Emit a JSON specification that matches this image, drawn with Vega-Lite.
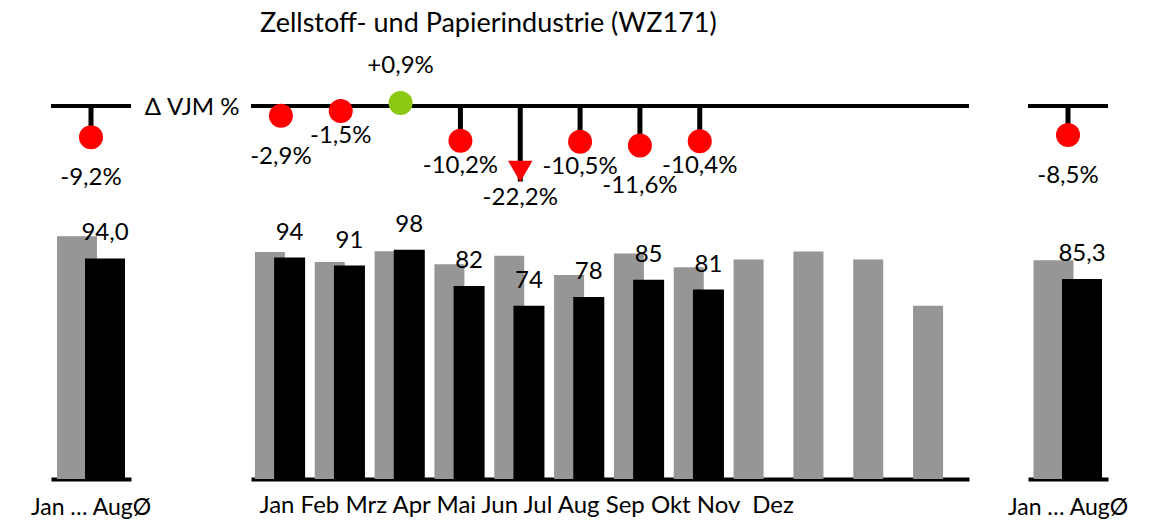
{
  "$schema": "https://vega.github.io/schema/vega-lite/v6.json",
  "padding": {"left": 30, "top": 10, "right": 0, "bottom": 0},
  "title": {"text": "Zellstoff- und Papierindustrie (WZ171)", "anchor": "start", "dx": 230, "fontSize": 27, "fontWeight": "normal", "font": "Lato", "color": "black", "offset": 13},
  "config": {
    "view": {"stroke": null},
    "font": "Lato",
    "locale": {"number": {"decimal": ",", "thousands": ".", "grouping": [3], "currency": ["", " €"], "minus": "-"}},
    "text": {"font": "Lato", "fontSize": 24, "color": "black"}
  },
  "spacing": 120,
  "bounds": "flush",
  "hconcat": [
    {
      "width": 80, "height": 428,
      "data": {"values": [{"period": "Jan … AugØ", "prev": 103.5, "curr": 94.0, "delta": -0.092}]},
      "resolve": {"scale": {"y": "independent"}},
      "layer": [
        {"mark": {"type": "bar", "width": 40, "xOffset": -14, "color": "#969696"},
         "encoding": {"x": {"field": "period", "type": "nominal", "scale": {"paddingInner": 0, "paddingOuter": 0}, "axis": {"title": null, "ticks": false, "tickSize": 0, "domainColor": "black", "domainWidth": 4, "labelFontSize": 23, "labelColor": "black", "labelPadding": 17, "labelAngle": 0, "labelFont": "Lato"}},
                      "y": {"field": "prev", "type": "quantitative", "scale": {"domain": [0, 182.5]}, "axis": null}}},
        {"mark": {"type": "bar", "width": 40, "xOffset": 14, "color": "#000000"},
         "encoding": {"x": {"field": "period", "type": "nominal", "scale": {"paddingInner": 0, "paddingOuter": 0}, "axis": {"title": null, "ticks": false, "tickSize": 0, "domainColor": "black", "domainWidth": 4, "labelFontSize": 23, "labelColor": "black", "labelPadding": 17, "labelAngle": 0, "labelFont": "Lato"}},
                      "y": {"field": "curr", "type": "quantitative", "scale": {"domain": [0, 182.5]}, "axis": null}}},
        {"mark": {"type": "text", "dx": 14, "dy": -26, "baseline": "middle", "fontSize": 24, "color": "black"},
         "encoding": {"x": {"field": "period", "type": "nominal", "scale": {"paddingInner": 0, "paddingOuter": 0}, "axis": {"title": null, "ticks": false, "tickSize": 0, "domainColor": "black", "domainWidth": 4, "labelFontSize": 23, "labelColor": "black", "labelPadding": 17, "labelAngle": 0, "labelFont": "Lato"}},
                      "y": {"field": "curr", "type": "quantitative", "scale": {"domain": [0, 182.5]}, "axis": null},
                      "text": {"field": "curr", "type": "quantitative", "format": ".1f"}}},
        {"data": {"values": [{}]},
         "mark": {"type": "rule", "strokeWidth": 4, "color": "black"},
         "encoding": {"y": {"datum": 0, "type": "quantitative", "scale": {"domain": [-1.09706, 0.16176]}, "axis": null}}},
        {"mark": {"type": "rule", "strokeWidth": 5, "color": "black"},
         "encoding": {"x": {"field": "period", "type": "nominal", "scale": {"paddingInner": 0, "paddingOuter": 0}, "axis": {"title": null, "ticks": false, "tickSize": 0, "domainColor": "black", "domainWidth": 4, "labelFontSize": 23, "labelColor": "black", "labelPadding": 17, "labelAngle": 0, "labelFont": "Lato"}},
                      "y": {"field": "delta", "type": "quantitative", "scale": {"domain": [-1.09706, 0.16176]}, "axis": null},
                      "y2": {"datum": 0}}},
        {"mark": {"type": "point", "filled": true, "shape": "circle", "size": 576, "opacity": 1},
         "encoding": {"x": {"field": "period", "type": "nominal", "scale": {"paddingInner": 0, "paddingOuter": 0}, "axis": {"title": null, "ticks": false, "tickSize": 0, "domainColor": "black", "domainWidth": 4, "labelFontSize": 23, "labelColor": "black", "labelPadding": 17, "labelAngle": 0, "labelFont": "Lato"}},
                      "y": {"field": "delta", "type": "quantitative", "scale": {"domain": [-1.09706, 0.16176]}, "axis": null},
                      "color": {"condition": {"test": "datum.delta > 0", "value": "#8CC814"}, "value": "#FF0000"}}},
        {"mark": {"type": "text", "dy": 41, "baseline": "middle", "fontSize": 24, "color": "black"},
         "encoding": {"x": {"field": "period", "type": "nominal", "scale": {"paddingInner": 0, "paddingOuter": 0}, "axis": {"title": null, "ticks": false, "tickSize": 0, "domainColor": "black", "domainWidth": 4, "labelFontSize": 23, "labelColor": "black", "labelPadding": 17, "labelAngle": 0, "labelFont": "Lato"}},
                      "y": {"field": "delta", "type": "quantitative", "scale": {"domain": [-1.09706, 0.16176]}, "axis": null},
                      "text": {"field": "delta", "type": "quantitative", "format": "+.1%"}}}
      ]
    },
    {
      "spacing": 59,
      "bounds": "flush",
      "hconcat": [
        {
          "width": 718, "height": 428,
          "data": {"values": [
            {"month": "Jan", "prev": 96.8, "curr": 94.4, "delta": -0.029},
            {"month": "Feb", "prev": 92.5, "curr": 91.0, "delta": -0.015},
            {"month": "Mrz", "prev": 97.1, "curr": 97.7, "delta": 0.009},
            {"month": "Apr", "prev": 91.6, "curr": 82.3, "delta": -0.102},
            {"month": "Mai", "prev": 95.2, "curr": 73.9, "delta": -0.222},
            {"month": "Jun", "prev": 87.0, "curr": 77.6, "delta": -0.105},
            {"month": "Jul", "prev": 96.2, "curr": 85.0, "delta": -0.116},
            {"month": "Aug", "prev": 90.3, "curr": 80.8, "delta": -0.104},
            {"month": "Sep", "prev": 93.6, "curr": null, "delta": null},
            {"month": "Okt", "prev": 97.0, "curr": null, "delta": null},
            {"month": "Nov", "prev": 93.6, "curr": null, "delta": null},
            {"month": "Dez", "prev": 73.9, "curr": null, "delta": null}
          ]},
          "resolve": {"scale": {"y": "independent"}},
          "layer": [
            {"mark": {"type": "bar", "width": 30, "xOffset": -11, "color": "#969696"},
             "encoding": {"x": {"field": "month", "type": "nominal", "scale": {"domain": ["Jan","Feb","Mrz","Apr","Mai","Jun","Jul","Aug","Sep","Okt","Nov","Dez"], "paddingInner": 0, "paddingOuter": 0}, "axis": {"title": "Jan Feb Mrz Apr Mai Jun Jul Aug Sep Okt Nov\u00a0 Dez", "titleAnchor": "start", "titleX": 8, "titlePadding": 14, "titleFontSize": 24, "titleFontWeight": "normal", "titleColor": "black", "titleFont": "Lato", "labels": false, "ticks": false, "tickSize": 0, "domainColor": "black", "domainWidth": 4}},
                          "y": {"field": "prev", "type": "quantitative", "scale": {"domain": [0, 182.5]}, "axis": null}}},
            {"transform": [{"filter": "isValid(datum.curr)"}],
             "mark": {"type": "bar", "width": 31, "xOffset": 8.7, "color": "#000000"},
             "encoding": {"x": {"field": "month", "type": "nominal", "scale": {"domain": ["Jan","Feb","Mrz","Apr","Mai","Jun","Jul","Aug","Sep","Okt","Nov","Dez"], "paddingInner": 0, "paddingOuter": 0}, "axis": {"title": "Jan Feb Mrz Apr Mai Jun Jul Aug Sep Okt Nov\u00a0 Dez", "titleAnchor": "start", "titleX": 8, "titlePadding": 14, "titleFontSize": 24, "titleFontWeight": "normal", "titleColor": "black", "titleFont": "Lato", "labels": false, "ticks": false, "tickSize": 0, "domainColor": "black", "domainWidth": 4}},
                          "y": {"field": "curr", "type": "quantitative", "scale": {"domain": [0, 182.5]}, "axis": null}}},
            {"transform": [{"filter": "isValid(datum.curr)"}],
             "mark": {"type": "text", "dx": 8.7, "dy": -25, "baseline": "middle", "fontSize": 24, "color": "black"},
             "encoding": {"x": {"field": "month", "type": "nominal", "scale": {"domain": ["Jan","Feb","Mrz","Apr","Mai","Jun","Jul","Aug","Sep","Okt","Nov","Dez"], "paddingInner": 0, "paddingOuter": 0}, "axis": {"title": "Jan Feb Mrz Apr Mai Jun Jul Aug Sep Okt Nov\u00a0 Dez", "titleAnchor": "start", "titleX": 8, "titlePadding": 14, "titleFontSize": 24, "titleFontWeight": "normal", "titleColor": "black", "titleFont": "Lato", "labels": false, "ticks": false, "tickSize": 0, "domainColor": "black", "domainWidth": 4}},
                          "y": {"field": "curr", "type": "quantitative", "scale": {"domain": [0, 182.5]}, "axis": null},
                          "text": {"field": "curr", "type": "quantitative", "format": ".0f"}}},
            {"data": {"values": [{}]},
             "mark": {"type": "rule", "strokeWidth": 4, "color": "black"},
             "encoding": {"y": {"datum": 0, "type": "quantitative", "scale": {"domain": [-1.09706, 0.16176]}, "axis": {"values": [0], "labelExpr": "'Δ VJM %'", "ticks": false, "tickSize": 0, "domain": false, "grid": false, "title": null, "labelFontSize": 24, "labelPadding": 12, "labelOffset": 2, "labelColor": "black", "labelFont": "Lato"}}}},
            {"transform": [{"filter": "isValid(datum.delta)"}],
             "mark": {"type": "rule", "strokeWidth": 5, "color": "black"},
             "encoding": {"x": {"field": "month", "type": "nominal", "scale": {"domain": ["Jan","Feb","Mrz","Apr","Mai","Jun","Jul","Aug","Sep","Okt","Nov","Dez"], "paddingInner": 0, "paddingOuter": 0}, "axis": {"title": "Jan Feb Mrz Apr Mai Jun Jul Aug Sep Okt Nov\u00a0 Dez", "titleAnchor": "start", "titleX": 8, "titlePadding": 14, "titleFontSize": 24, "titleFontWeight": "normal", "titleColor": "black", "titleFont": "Lato", "labels": false, "ticks": false, "tickSize": 0, "domainColor": "black", "domainWidth": 4}},
                          "y": {"field": "delta", "type": "quantitative", "scale": {"domain": [-1.09706, 0.16176]}, "axis": null},
                          "y2": {"datum": 0}}},
            {"transform": [{"filter": "isValid(datum.delta) && datum.delta >= -0.2"}],
             "mark": {"type": "point", "filled": true, "shape": "circle", "size": 576, "opacity": 1},
             "encoding": {"x": {"field": "month", "type": "nominal", "scale": {"domain": ["Jan","Feb","Mrz","Apr","Mai","Jun","Jul","Aug","Sep","Okt","Nov","Dez"], "paddingInner": 0, "paddingOuter": 0}, "axis": {"title": "Jan Feb Mrz Apr Mai Jun Jul Aug Sep Okt Nov\u00a0 Dez", "titleAnchor": "start", "titleX": 8, "titlePadding": 14, "titleFontSize": 24, "titleFontWeight": "normal", "titleColor": "black", "titleFont": "Lato", "labels": false, "ticks": false, "tickSize": 0, "domainColor": "black", "domainWidth": 4}},
                          "y": {"field": "delta", "type": "quantitative", "scale": {"domain": [-1.09706, 0.16176]}, "axis": null},
                          "color": {"condition": {"test": "datum.delta > 0", "value": "#8CC814"}, "value": "#FF0000"}}},
            {"transform": [{"filter": "isValid(datum.delta) && datum.delta < -0.2"}],
             "mark": {"type": "point", "filled": true, "shape": "triangle-down", "size": 600, "opacity": 1, "yOffset": -10, "color": "#FF0000"},
             "encoding": {"x": {"field": "month", "type": "nominal", "scale": {"domain": ["Jan","Feb","Mrz","Apr","Mai","Jun","Jul","Aug","Sep","Okt","Nov","Dez"], "paddingInner": 0, "paddingOuter": 0}, "axis": {"title": "Jan Feb Mrz Apr Mai Jun Jul Aug Sep Okt Nov\u00a0 Dez", "titleAnchor": "start", "titleX": 8, "titlePadding": 14, "titleFontSize": 24, "titleFontWeight": "normal", "titleColor": "black", "titleFont": "Lato", "labels": false, "ticks": false, "tickSize": 0, "domainColor": "black", "domainWidth": 4}},
                          "y": {"field": "delta", "type": "quantitative", "scale": {"domain": [-1.09706, 0.16176]}, "axis": null}}},
            {"transform": [{"filter": "isValid(datum.delta) && datum.delta > 0"}],
             "mark": {"type": "text", "dy": -37, "baseline": "middle", "fontSize": 24, "color": "black"},
             "encoding": {"x": {"field": "month", "type": "nominal", "scale": {"domain": ["Jan","Feb","Mrz","Apr","Mai","Jun","Jul","Aug","Sep","Okt","Nov","Dez"], "paddingInner": 0, "paddingOuter": 0}, "axis": {"title": "Jan Feb Mrz Apr Mai Jun Jul Aug Sep Okt Nov\u00a0 Dez", "titleAnchor": "start", "titleX": 8, "titlePadding": 14, "titleFontSize": 24, "titleFontWeight": "normal", "titleColor": "black", "titleFont": "Lato", "labels": false, "ticks": false, "tickSize": 0, "domainColor": "black", "domainWidth": 4}},
                          "y": {"field": "delta", "type": "quantitative", "scale": {"domain": [-1.09706, 0.16176]}, "axis": null},
                          "text": {"field": "delta", "type": "quantitative", "format": "+.1%"}}},
            {"transform": [{"filter": "isValid(datum.delta) && datum.delta < -0.2"}],
             "mark": {"type": "text", "dy": 17, "baseline": "middle", "fontSize": 24, "color": "black"},
             "encoding": {"x": {"field": "month", "type": "nominal", "scale": {"domain": ["Jan","Feb","Mrz","Apr","Mai","Jun","Jul","Aug","Sep","Okt","Nov","Dez"], "paddingInner": 0, "paddingOuter": 0}, "axis": {"title": "Jan Feb Mrz Apr Mai Jun Jul Aug Sep Okt Nov\u00a0 Dez", "titleAnchor": "start", "titleX": 8, "titlePadding": 14, "titleFontSize": 24, "titleFontWeight": "normal", "titleColor": "black", "titleFont": "Lato", "labels": false, "ticks": false, "tickSize": 0, "domainColor": "black", "domainWidth": 4}},
                          "y": {"field": "delta", "type": "quantitative", "scale": {"domain": [-1.09706, 0.16176]}, "axis": null},
                          "text": {"field": "delta", "type": "quantitative", "format": "+.1%"}}},
            {"transform": [{"filter": "isValid(datum.delta) && (datum.month == 'Jan' || datum.month == 'Jul')"}],
             "mark": {"type": "text", "dy": 41, "baseline": "middle", "fontSize": 24, "color": "black"},
             "encoding": {"x": {"field": "month", "type": "nominal", "scale": {"domain": ["Jan","Feb","Mrz","Apr","Mai","Jun","Jul","Aug","Sep","Okt","Nov","Dez"], "paddingInner": 0, "paddingOuter": 0}, "axis": {"title": "Jan Feb Mrz Apr Mai Jun Jul Aug Sep Okt Nov\u00a0 Dez", "titleAnchor": "start", "titleX": 8, "titlePadding": 14, "titleFontSize": 24, "titleFontWeight": "normal", "titleColor": "black", "titleFont": "Lato", "labels": false, "ticks": false, "tickSize": 0, "domainColor": "black", "domainWidth": 4}},
                          "y": {"field": "delta", "type": "quantitative", "scale": {"domain": [-1.09706, 0.16176]}, "axis": null},
                          "text": {"field": "delta", "type": "quantitative", "format": "+.1%"}}},
            {"transform": [{"filter": "isValid(datum.delta) && datum.delta < 0 && datum.delta >= -0.2 && datum.month != 'Jan' && datum.month != 'Jul'"}],
             "mark": {"type": "text", "dy": 25, "baseline": "middle", "fontSize": 24, "color": "black"},
             "encoding": {"x": {"field": "month", "type": "nominal", "scale": {"domain": ["Jan","Feb","Mrz","Apr","Mai","Jun","Jul","Aug","Sep","Okt","Nov","Dez"], "paddingInner": 0, "paddingOuter": 0}, "axis": {"title": "Jan Feb Mrz Apr Mai Jun Jul Aug Sep Okt Nov\u00a0 Dez", "titleAnchor": "start", "titleX": 8, "titlePadding": 14, "titleFontSize": 24, "titleFontWeight": "normal", "titleColor": "black", "titleFont": "Lato", "labels": false, "ticks": false, "tickSize": 0, "domainColor": "black", "domainWidth": 4}},
                          "y": {"field": "delta", "type": "quantitative", "scale": {"domain": [-1.09706, 0.16176]}, "axis": null},
                          "text": {"field": "delta", "type": "quantitative", "format": "+.1%"}}}
          ]
        },
        {
          "width": 80, "height": 428,
          "data": {"values": [{"period": "Jan … AugØ", "prev": 93.3, "curr": 85.3, "delta": -0.085}]},
          "resolve": {"scale": {"y": "independent"}},
          "layer": [
            {"mark": {"type": "bar", "width": 40, "xOffset": -14.5, "color": "#969696"},
             "encoding": {"x": {"field": "period", "type": "nominal", "scale": {"paddingInner": 0, "paddingOuter": 0}, "axis": {"title": null, "ticks": false, "tickSize": 0, "domainColor": "black", "domainWidth": 4, "labelFontSize": 23, "labelColor": "black", "labelPadding": 17, "labelAngle": 0, "labelFont": "Lato"}},
                          "y": {"field": "prev", "type": "quantitative", "scale": {"domain": [0, 182.5]}, "axis": null}}},
            {"mark": {"type": "bar", "width": 40, "xOffset": 14, "color": "#000000"},
             "encoding": {"x": {"field": "period", "type": "nominal", "scale": {"paddingInner": 0, "paddingOuter": 0}, "axis": {"title": null, "ticks": false, "tickSize": 0, "domainColor": "black", "domainWidth": 4, "labelFontSize": 23, "labelColor": "black", "labelPadding": 17, "labelAngle": 0, "labelFont": "Lato"}},
                          "y": {"field": "curr", "type": "quantitative", "scale": {"domain": [0, 182.5]}, "axis": null}}},
            {"mark": {"type": "text", "dx": 14, "dy": -25, "baseline": "middle", "fontSize": 24, "color": "black"},
             "encoding": {"x": {"field": "period", "type": "nominal", "scale": {"paddingInner": 0, "paddingOuter": 0}, "axis": {"title": null, "ticks": false, "tickSize": 0, "domainColor": "black", "domainWidth": 4, "labelFontSize": 23, "labelColor": "black", "labelPadding": 17, "labelAngle": 0, "labelFont": "Lato"}},
                          "y": {"field": "curr", "type": "quantitative", "scale": {"domain": [0, 182.5]}, "axis": null},
                          "text": {"field": "curr", "type": "quantitative", "format": ".1f"}}},
            {"data": {"values": [{}]},
             "mark": {"type": "rule", "strokeWidth": 4, "color": "black"},
             "encoding": {"y": {"datum": 0, "type": "quantitative", "scale": {"domain": [-1.09706, 0.16176]}, "axis": null}}},
            {"mark": {"type": "rule", "strokeWidth": 5, "color": "black"},
             "encoding": {"x": {"field": "period", "type": "nominal", "scale": {"paddingInner": 0, "paddingOuter": 0}, "axis": {"title": null, "ticks": false, "tickSize": 0, "domainColor": "black", "domainWidth": 4, "labelFontSize": 23, "labelColor": "black", "labelPadding": 17, "labelAngle": 0, "labelFont": "Lato"}},
                          "y": {"field": "delta", "type": "quantitative", "scale": {"domain": [-1.09706, 0.16176]}, "axis": null},
                          "y2": {"datum": 0}}},
            {"mark": {"type": "point", "filled": true, "shape": "circle", "size": 576, "opacity": 1},
             "encoding": {"x": {"field": "period", "type": "nominal", "scale": {"paddingInner": 0, "paddingOuter": 0}, "axis": {"title": null, "ticks": false, "tickSize": 0, "domainColor": "black", "domainWidth": 4, "labelFontSize": 23, "labelColor": "black", "labelPadding": 17, "labelAngle": 0, "labelFont": "Lato"}},
                          "y": {"field": "delta", "type": "quantitative", "scale": {"domain": [-1.09706, 0.16176]}, "axis": null},
                          "color": {"condition": {"test": "datum.delta > 0", "value": "#8CC814"}, "value": "#FF0000"}}},
            {"mark": {"type": "text", "dy": 41, "baseline": "middle", "fontSize": 24, "color": "black"},
             "encoding": {"x": {"field": "period", "type": "nominal", "scale": {"paddingInner": 0, "paddingOuter": 0}, "axis": {"title": null, "ticks": false, "tickSize": 0, "domainColor": "black", "domainWidth": 4, "labelFontSize": 23, "labelColor": "black", "labelPadding": 17, "labelAngle": 0, "labelFont": "Lato"}},
                          "y": {"field": "delta", "type": "quantitative", "scale": {"domain": [-1.09706, 0.16176]}, "axis": null},
                          "text": {"field": "delta", "type": "quantitative", "format": "+.1%"}}}
          ]
        }
      ]
    }
  ]
}
